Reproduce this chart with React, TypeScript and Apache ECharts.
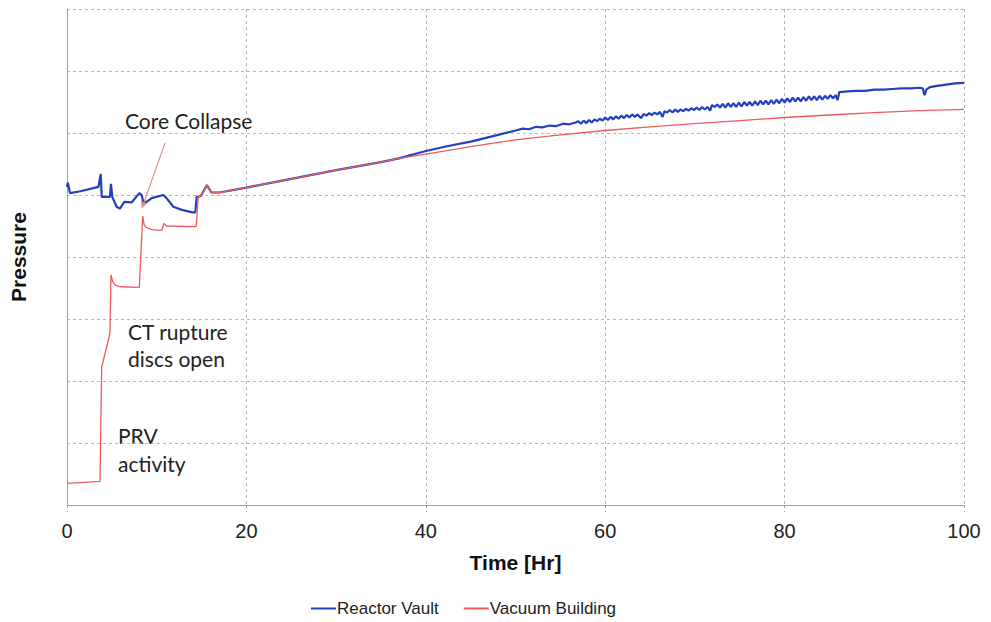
import React, { useEffect, useRef } from "react";
import * as echarts from "echarts";

const xTicks = [0, 20, 40, 60, 80, 100];
const seriesNames = ["Reactor Vault", "Vacuum Building"];

// [time (hr), pressure (grid units)]
const reactorVault: [number, number][] = [
  [0, 5.13], [0.1, 5.2], [0.33, 5.03], [1.5, 5.06], [3.5, 5.13], [3.76, 5.34], [3.87, 4.97],
  [4.79, 4.97], [4.9, 5.18], [5.05, 4.97], [5.53, 4.81], [5.9, 4.78], [6.39, 4.89], [7.2, 4.88],
  [8.06, 5.03], [8.32, 5.0], [8.5, 4.89], [8.88, 4.89], [9.44, 4.95], [10.74, 5.0], [11.1, 4.95],
  [11.85, 4.81], [12.79, 4.76], [14.0, 4.72], [14.3, 4.72], [14.46, 4.97], [14.9, 4.98],
  [15.6, 5.16], [16.1, 5.04], [17, 5.04], [20, 5.12], [25, 5.26], [30, 5.4], [35, 5.53],
  [37, 5.59], [40, 5.71], [42.5, 5.79], [45, 5.86], [47.5, 5.95],
  [50, 6.04], [50.8, 6.07], [51.5, 6.06], [52.3, 6.1], [53, 6.09], [53.8, 6.12], [54.5, 6.11],
  [55.3, 6.15], [56, 6.14], [56.7, 6.17],
  [57.0, 6.19], [57.3, 6.15], [57.6, 6.2], [57.9, 6.16], [58.2, 6.21], [58.5, 6.17], [58.8, 6.22],
  [59.1, 6.19], [59.4, 6.23], [59.7, 6.2], [60.0, 6.25], [60.3, 6.21], [60.6, 6.26], [60.9, 6.22],
  [61.2, 6.27], [61.5, 6.23], [61.8, 6.28], [62.1, 6.24], [62.4, 6.29], [62.7, 6.25], [63.0, 6.3],
  [63.3, 6.26], [63.6, 6.3], [64.0, 6.24], [64.3, 6.31], [64.6, 6.28], [64.9, 6.32], [65.2, 6.29],
  [65.5, 6.33], [65.8, 6.3], [66.1, 6.34], [66.4, 6.26], [66.6, 6.35], [66.9, 6.33], [67.2, 6.37],
  [67.5, 6.33], [67.8, 6.38], [68.1, 6.34], [68.4, 6.38], [68.7, 6.35], [69.0, 6.39], [69.3, 6.36],
  [69.6, 6.4], [69.9, 6.37], [70.2, 6.41], [70.5, 6.37], [70.8, 6.42], [71.1, 6.38], [71.4, 6.42],
  [71.7, 6.36], [71.9, 6.45], [72.2, 6.42], [72.5, 6.46], [72.8, 6.41], [73.1, 6.47], [73.4, 6.41],
  [73.7, 6.48], [74.0, 6.42], [74.3, 6.48], [74.6, 6.42], [74.9, 6.49], [75.2, 6.43], [75.5, 6.5],
  [75.8, 6.44], [76.1, 6.5], [76.4, 6.44], [76.7, 6.51], [77.0, 6.45], [77.3, 6.52], [77.6, 6.46],
  [77.9, 6.52], [78.2, 6.46], [78.5, 6.53], [78.8, 6.47], [79.1, 6.54], [79.4, 6.48], [79.7, 6.55],
  [80.0, 6.49], [80.3, 6.56], [80.6, 6.5], [80.9, 6.57], [81.2, 6.51], [81.5, 6.57], [81.8, 6.51],
  [82.1, 6.58], [82.4, 6.52], [82.7, 6.59], [83.0, 6.53], [83.3, 6.59], [83.6, 6.53], [83.9, 6.6],
  [84.2, 6.54], [84.5, 6.6], [84.8, 6.55], [85.1, 6.61], [85.4, 6.56], [85.7, 6.61], [85.9, 6.53],
  [86.1, 6.66], [87, 6.67], [88, 6.68], [89, 6.68], [90, 6.7], [91, 6.7], [92, 6.71], [93, 6.72],
  [94, 6.72], [95, 6.73], [95.4, 6.72], [95.6, 6.61], [95.8, 6.7], [96.2, 6.74], [97, 6.76],
  [98, 6.78], [99, 6.8], [100, 6.81],
];

const vacuumBuilding: [number, number][] = [
  [0, 0.35], [3.68, 0.38], [3.87, 2.23], [4.0, 2.3], [4.79, 2.77], [4.9, 3.71], [5.1, 3.6],
  [5.35, 3.55], [5.9, 3.52], [8.06, 3.51], [8.44, 4.66], [8.6, 4.52], [8.8, 4.48], [9.44, 4.44],
  [10.56, 4.43], [10.8, 4.54], [11.1, 4.5], [14.4, 4.49], [14.64, 4.98], [14.9, 4.98],
  [15.6, 5.16], [16.1, 5.04], [17, 5.04], [20, 5.12], [25, 5.26], [30, 5.4], [35, 5.53],
  [37, 5.59], [40, 5.66], [45, 5.78], [50, 5.89], [55, 5.97], [60, 6.04], [65, 6.1], [70, 6.15],
  [75, 6.2], [80, 6.25], [85, 6.29], [90, 6.33], [95, 6.36], [100, 6.38],
];

const arrowFrom: [number, number] = [10.93, 5.84];
const arrowTo: [number, number] = [8.36, 4.79];

const annotations = [
  { text: "Core Collapse", x: 125, y: 122 },
  { text: "CT rupture", x: 128, y: 333 },
  { text: "discs open", x: 128, y: 360 },
  { text: "PRV", x: 118, y: 437 },
  { text: "activity", x: 118, y: 465 },
];

const SANS = "'Liberation Sans', Arial, sans-serif";

export default function App() {
  const ref = useRef<HTMLDivElement>(null);
  useEffect(() => {
    if (!ref.current) return;
    const chart = echarts.init(ref.current, undefined, { renderer: "svg" });
    const gridStyle = { color: "#b8b8b8", type: [3, 3] as any, width: 1 };
    chart.setOption({
      animation: false,
      backgroundColor: "#ffffff",
      grid: { left: 67, right: 27, top: 9, bottom: 117, containLabel: false },
      legend: {
        data: seriesNames,
        left: 306,
        top: 595,
        icon: "rect",
        itemWidth: 25,
        itemHeight: 2,
        itemGap: 25,
        textStyle: { fontFamily: SANS, fontSize: 17, color: "#222", padding: [0, 0, 0, -4] },
      },
      xAxis: {
        type: "value",
        min: xTicks[0],
        max: xTicks[xTicks.length - 1],
        interval: 20,
        name: "Time [Hr]",
        nameLocation: "middle",
        nameGap: 47,
        nameTextStyle: { fontFamily: SANS, fontSize: 21, fontWeight: "bold", color: "#111" },
        axisLine: { show: true, lineStyle: { color: "#a0a0a0", width: 1 } },
        axisTick: { show: true, length: 7, lineStyle: { color: "#a0a0a0", type: [3, 3] as any } },
        axisLabel: { fontFamily: SANS, fontSize: 20, color: "#222", margin: 16 },
        splitLine: { show: true, lineStyle: gridStyle },
      },
      yAxis: {
        type: "value",
        min: 0,
        max: 8,
        interval: 1,
        name: "Pressure",
        nameLocation: "middle",
        nameGap: 38,
        nameRotate: 90,
        nameTextStyle: { fontFamily: SANS, fontSize: 21, fontWeight: "bold", color: "#111" },
        axisLine: { show: true, lineStyle: { color: "#a0a0a0", width: 1 } },
        axisTick: { show: false },
        axisLabel: { show: false },
        splitLine: { show: true, lineStyle: gridStyle },
      },
      series: [
        {
          name: seriesNames[0],
          type: "line",
          data: reactorVault,
          showSymbol: false,
          symbol: "none",
          color: "#2340c0",
          lineStyle: { color: "#2340c0", width: 2.2 },
          z: 2,
        },
        {
          name: seriesNames[1],
          type: "line",
          data: vacuumBuilding,
          showSymbol: false,
          symbol: "none",
          color: "#ee5a5e",
          lineStyle: { color: "#ee5a5e", width: 1.3 },
          z: 3,
          markLine: {
            silent: true,
            symbol: ["none", "arrow"],
            symbolSize: [6, 7],
            label: { show: false },
            lineStyle: { color: "#e0908c", width: 1.2, type: "solid" },
            data: [[{ coord: arrowFrom }, { coord: arrowTo }]],
          },
        },
      ],
      graphic: annotations.map((a) => ({
        type: "text",
        left: a.x,
        top: a.y - 12,
        style: { text: a.text, fontFamily: "Lato", fontSize: 21, fill: "#222" },
      })),
    });
    return () => chart.dispose();
  }, []);
  return <div ref={ref} style={{ position: "fixed", left: 0, top: 0, width: 991, height: 622 }} />;
}
